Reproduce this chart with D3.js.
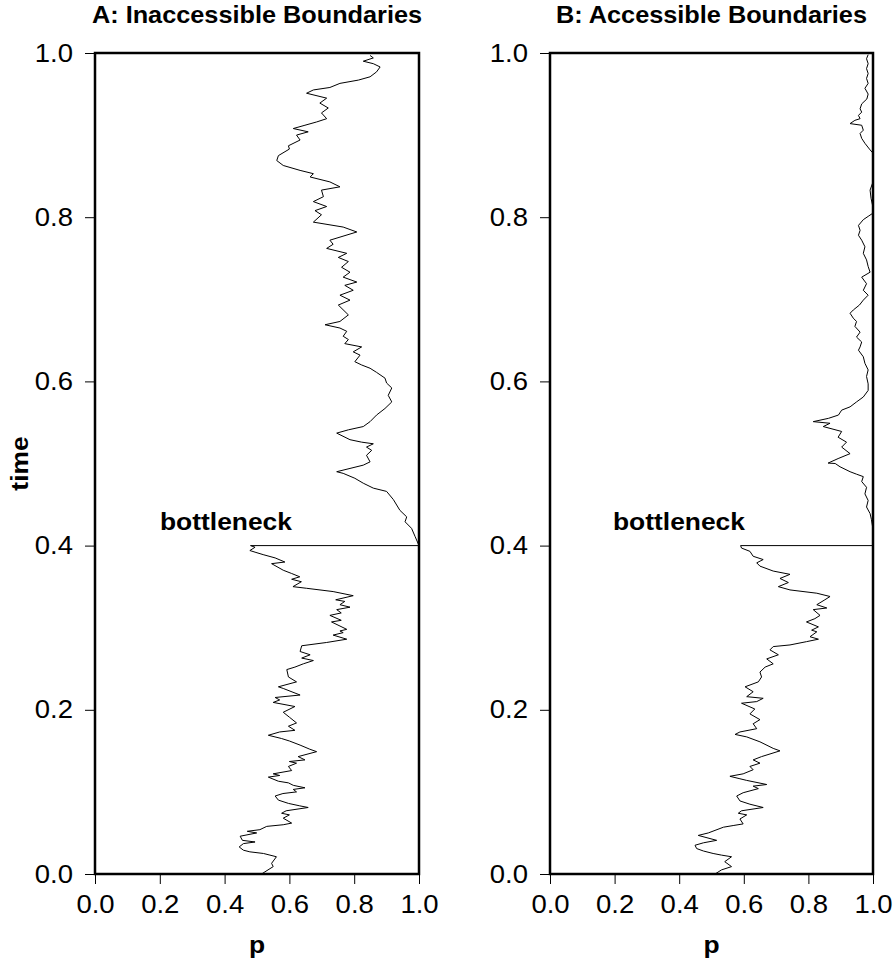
<!DOCTYPE html>
<html>
<head>
<meta charset="utf-8">
<script src="https://cdn.jsdelivr.net/npm/d3@7"></script>
<style>
  body { margin: 0; background: #fff; }
  svg { display: block; font-family: "Liberation Sans", Arial, Helvetica, sans-serif; }
</style>
</head>
<body>
<svg></svg>
<script>
const width = 894;
const height = 966;

const tickValues = [0, 0.2, 0.4, 0.6, 0.8, 1.0];
const panelTitles = ["A: Inaccessible Boundaries", "B: Accessible Boundaries"];
const xLabel = "p";
const yLabel = "time";
const noteLabel = "bottleneck";

// traces as [time, p]
const lowerA = [
  [0.000, .514], [0.009, .55], [0.013, .545], [0.021, .56], [0.023, .54], [0.025, .52],
  [0.027, .478], [0.029, .458], [0.033, .445], [0.037, .458], [0.039, .494], [0.041, .455],
  [0.046, .448], [0.050, .499], [0.052, .47], [0.054, .509], [0.058, .53], [0.060, .581],
  [0.062, .607], [0.068, .581], [0.072, .60], [0.074, .576], [0.077, .59], [0.081, .658],
  [0.083, .632], [0.086, .597], [0.090, .566], [0.095, .556], [0.098, .58], [0.100, .622],
  [0.103, .612], [0.105, .648], [0.108, .612], [0.111, .597], [0.113, .566], [0.118, .535],
  [0.120, .57], [0.122, .55], [0.126, .607], [0.131, .597], [0.135, .622], [0.137, .60],
  [0.139, .648], [0.143, .627], [0.149, .684], [0.152, .663], [0.157, .633], [0.162, .60],
  [0.165, .576], [0.169, .535], [0.173, .57], [0.175, .617], [0.180, .597], [0.184, .622],
  [0.191, .60], [0.197, .581], [0.204, .617], [0.209, .55], [0.212, .57], [0.215, .556],
  [0.218, .633], [0.226, .581], [0.228, .566], [0.234, .622], [0.240, .597], [0.249, .592],
  [0.252, .617], [0.256, .643], [0.260, .674], [0.263, .638], [0.267, .664], [0.271, .633],
  [0.278, .638], [0.282, .715], [0.286, .777], [0.291, .735], [0.294, .766], [0.296, .756],
  [0.298, .777], [0.307, .730], [0.309, .76], [0.315, .725], [0.318, .76], [0.322, .746],
  [0.325, .787], [0.328, .756], [0.332, .771], [0.334, .743], [0.339, .797], [0.344, .735],
  [0.348, .653], [0.350, .611], [0.356, .637], [0.359, .607], [0.362, .632], [0.366, .607],
  [0.370, .581], [0.378, .545], [0.380, .586], [0.385, .556], [0.389, .519], [0.392, .494],
  [0.394, .478], [0.398, .494], [0.400, .48]
];

const upperA = [
  [0.400, 1.0], [0.411, .988], [0.421, .977], [0.429, .957], [0.435, .962], [0.443, .941],
  [0.456, .921], [0.466, .90], [0.470, .859], [0.476, .828], [0.482, .802], [0.488, .766],
  [0.490, .746], [0.494, .787], [0.498, .828], [0.502, .849], [0.510, .838], [0.516, .854],
  [0.520, .838], [0.524, .859], [0.526, .823], [0.529, .787], [0.537, .746], [0.541, .782],
  [0.545, .828], [0.551, .849], [0.559, .869], [0.567, .895], [0.575, .916], [0.583, .905],
  [0.592, .916], [0.598, .90], [0.604, .895], [0.611, .869], [0.616, .849], [0.620, .823],
  [0.624, .802], [0.632, .818], [0.636, .797], [0.642, .823], [0.646, .771], [0.651, .782],
  [0.655, .766], [0.661, .777], [0.665, .756], [0.669, .71], [0.673, .756], [0.681, .782],
  [0.693, .751], [0.699, .787], [0.705, .756], [0.711, .797], [0.717, .771], [0.721, .808],
  [0.727, .766], [0.733, .787], [0.739, .761], [0.746, .782], [0.751, .751], [0.756, .777],
  [0.762, .715], [0.767, .735], [0.772, .725], [0.782, .808], [0.788, .766], [0.794, .674],
  [0.803, .699], [0.808, .679], [0.813, .715], [0.819, .674], [0.825, .705], [0.833, .699],
  [0.837, .756], [0.843, .725], [0.849, .664], [0.853, .674], [0.857, .633], [0.863, .581],
  [0.869, .561], [0.875, .566], [0.883, .60], [0.887, .597], [0.894, .633], [0.900, .622],
  [0.904, .658], [0.908, .612], [0.912, .648], [0.916, .684], [0.920, .715], [0.927, .699],
  [0.933, .72], [0.939, .694], [0.945, .715], [0.951, .653], [0.955, .674], [0.958, .725],
  [0.963, .756], [0.967, .813], [0.971, .849], [0.977, .869], [0.983, .88], [0.987, .859],
  [0.990, .828], [0.994, .859], [0.997, .849]
];

const lowerB = [
  [0.000, .511], [0.005, .531], [0.009, .562], [0.015, .541], [0.021, .562], [0.023, .531],
  [0.025, .505], [0.028, .475], [0.031, .454], [0.035, .449], [0.038, .475], [0.041, .516],
  [0.047, .459], [0.050, .49], [0.057, .537], [0.059, .567], [0.061, .598], [0.067, .588],
  [0.072, .609], [0.074, .583], [0.077, .593], [0.081, .660], [0.085, .619], [0.089, .588],
  [0.095, .578], [0.099, .598], [0.104, .645], [0.107, .629], [0.109, .671], [0.114, .609],
  [0.116, .588], [0.119, .557], [0.122, .598], [0.127, .629], [0.131, .619], [0.135, .650],
  [0.139, .629], [0.143, .655], [0.150, .712], [0.153, .691], [0.161, .650], [0.167, .609],
  [0.170, .573], [0.173, .588], [0.177, .640], [0.183, .629], [0.188, .650], [0.195, .619],
  [0.201, .634], [0.208, .593], [0.210, .640], [0.214, .660], [0.216, .609], [0.222, .629],
  [0.228, .604], [0.234, .645], [0.240, .655], [0.246, .650], [0.252, .666], [0.256, .691],
  [0.262, .671], [0.267, .707], [0.273, .681], [0.277, .691], [0.279, .743], [0.283, .794],
  [0.286, .831], [0.289, .805], [0.295, .826], [0.297, .81], [0.301, .831], [0.307, .794],
  [0.311, .820], [0.315, .836], [0.322, .815], [0.324, .857], [0.328, .826], [0.334, .851],
  [0.338, .867], [0.342, .826], [0.346, .743], [0.350, .707], [0.355, .738], [0.360, .712],
  [0.365, .743], [0.369, .691], [0.375, .650], [0.379, .640], [0.383, .660], [0.387, .629],
  [0.393, .619], [0.397, .593], [0.400, .59]
];

const upperB = [
  [0.400, 1.0], [0.420, 1.0], [0.432, .995], [0.439, .991], [0.447, .98], [0.455, .985],
  [0.463, .975], [0.471, .98], [0.478, .965], [0.484, .97], [0.487, .949], [0.490, .929],
  [0.496, .898], [0.500, .883], [0.5005, .861], [0.506, .892], [0.512, .929], [0.520, .903],
  [0.526, .918], [0.532, .892], [0.539, .903], [0.545, .846], [0.549, .867], [0.551, .815],
  [0.555, .862], [0.559, .893], [0.565, .903], [0.569, .929], [0.575, .949], [0.581, .970],
  [0.589, .985], [0.597, .985], [0.606, .980], [0.614, .985], [0.622, .975], [0.630, .970],
  [0.638, .955], [0.642, .960], [0.648, .965], [0.654, .949], [0.660, .960], [0.667, .944],
  [0.673, .949], [0.677, .939], [0.683, .929], [0.687, .939], [0.693, .958], [0.699, .970],
  [0.705, .985], [0.711, .970], [0.719, .980], [0.727, .965], [0.733, .991], [0.740, .985],
  [0.748, .980], [0.756, .970], [0.764, .975], [0.772, .965], [0.778, .955], [0.784, .960],
  [0.790, .955], [0.797, .970], [0.801, .985], [0.805, 1.0], [0.812, 1.0], [0.823, .994],
  [0.833, .991], [0.843, 1.0], [0.857, 1.0], [0.878, 1.0], [0.882, .991], [0.890, .975],
  [0.896, .965], [0.902, .960], [0.906, .970], [0.912, .965], [0.914, .929], [0.918, .944],
  [0.920, .960], [0.924, .955], [0.928, .965], [0.932, .960], [0.938, .965], [0.944, .981],
  [0.950, .985], [0.957, .975], [0.963, .985], [0.969, .980], [0.975, .985], [0.981, .980],
  [0.987, .985], [0.993, .980], [0.998, .985]
];

const panels = [
  { title: panelTitles[0], lower: lowerA, upper: upperA, left: 95, right: 419, noteX: 160, yLabel: true },
  { title: panelTitles[1], lower: lowerB, upper: upperB, left: 550, right: 873, noteX: 613, yLabel: false }
];

const plotTop = 53;
const plotBottom = 874;
const SX = 1.1; // lettering in the figure runs a little wide

const svg = d3.select("svg").attr("width", width).attr("height", height);

panels.forEach((pn) => {
  const x = d3.scaleLinear().domain([0, 1]).range([pn.left, pn.right]);
  const y = d3.scaleLinear().domain([0, 1]).range([plotBottom, plotTop]);
  const cx = (pn.left + pn.right) / 2;

  const line = d3.line().x((d) => x(d[1])).y((d) => y(d[0]));

  // lower walk, bottleneck jump, upper walk
  svg
    .append("path")
    .datum(pn.lower.concat(pn.upper))
    .attr("d", line)
    .attr("fill", "none")
    .attr("stroke", "#000")
    .attr("stroke-width", 1)
    .attr("stroke-linejoin", "round");

  // axes
  const yAxis = svg
    .append("g")
    .attr("transform", `translate(${pn.left},0)`)
    .call(d3.axisLeft(y).tickValues(tickValues).tickFormat(d3.format(".1f")).tickSize(10).tickPadding(10));
  const xAxis = svg
    .append("g")
    .attr("transform", `translate(0,${plotBottom})`)
    .call(d3.axisBottom(x).tickValues(tickValues).tickFormat(d3.format(".1f")).tickSize(10).tickPadding(11));

  [yAxis, xAxis].forEach((a) => {
    a.attr("font-size", 25).attr("font-family", null);
    a.select(".domain").remove();
    a.selectAll(".tick line").attr("stroke", "#000");
    a.selectAll(".tick text").attr("fill", "#000").attr("transform", `scale(${SX},1)`);
  });

  // frame
  svg
    .append("rect")
    .attr("x", pn.left)
    .attr("y", plotTop)
    .attr("width", pn.right - pn.left)
    .attr("height", plotBottom - plotTop)
    .attr("fill", "none")
    .attr("stroke", "#000")
    .attr("stroke-width", 2.5);

  // title
  svg
    .append("text")
    .attr("transform", `translate(${cx},23) scale(${SX},1)`)
    .attr("text-anchor", "middle")
    .style("font-size", "23px")
    .style("font-weight", "bold")
    .text(pn.title);

  // x label
  svg
    .append("text")
    .attr("transform", `translate(${cx},953) scale(${SX},1)`)
    .attr("text-anchor", "middle")
    .style("font-size", "24px")
    .style("font-weight", "bold")
    .text(xLabel);

  // bottleneck note
  svg
    .append("text")
    .attr("transform", `translate(${pn.noteX},530) scale(${SX},1)`)
    .style("font-size", "24px")
    .style("font-weight", "bold")
    .text(noteLabel);

  if (pn.yLabel) {
    svg
      .append("text")
      .attr("transform", `translate(28,${(plotTop + plotBottom) / 2}) rotate(-90) scale(${SX},1)`)
      .attr("text-anchor", "middle")
      .style("font-size", "24px")
      .style("font-weight", "bold")
      .text(yLabel);
  }
});
</script>
</body>
</html>
